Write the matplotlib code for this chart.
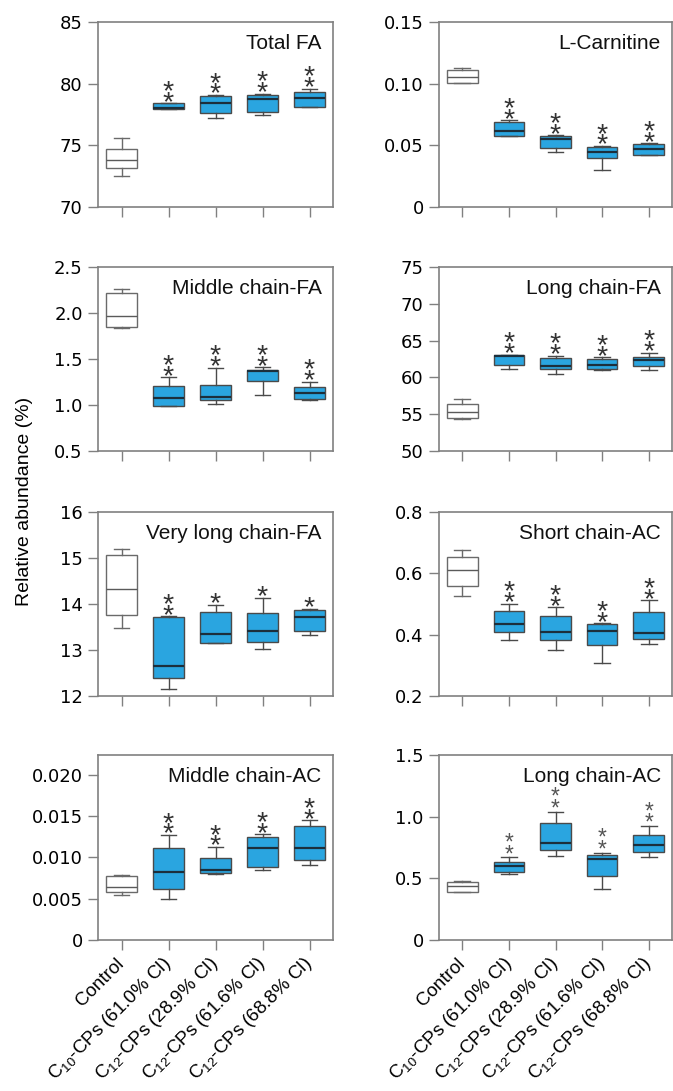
import matplotlib
matplotlib.use('Agg')
import matplotlib.pyplot as plt
from matplotlib import transforms
from matplotlib.textpath import TextPath
from matplotlib.font_manager import FontProperties
from matplotlib.ticker import FixedLocator, FixedFormatter

plt.rcParams['font.family'] = ['Liberation Sans', 'DejaVu Sans']
plt.rcParams['mathtext.fontset'] = 'custom'
plt.rcParams['mathtext.rm'] = 'Liberation Sans'
plt.rcParams['mathtext.it'] = 'Liberation Sans:italic'
plt.rcParams['mathtext.bf'] = 'Liberation Sans:bold'

# ---------------- data ----------------
groups = ['Control',
          r'C$_{10}$-CPs (61.0% Cl)',
          r'C$_{12}$-CPs (28.9% Cl)',
          r'C$_{12}$-CPs (61.6% Cl)',
          r'C$_{12}$-CPs (68.8% Cl)']

# each entry: (whisker low, Q1, median, Q3, whisker high)
total_fa = [(72.48, 73.16, 73.83, 74.68, 75.58),
            (77.98, 77.98, 78.02, 78.40, 78.42),
            (77.19, 77.64, 78.40, 79.02, 79.08),
            (77.50, 77.72, 78.74, 79.05, 79.19),
            (78.09, 78.09, 78.80, 79.36, 79.59)]
total_fa_stars = [0, 2, 2, 2, 2]

l_carnitine = [(0.1003, 0.1008, 0.1052, 0.1114, 0.1125),
               (0.0576, 0.0576, 0.0620, 0.0690, 0.0704),
               (0.0446, 0.0476, 0.0554, 0.0576, 0.0582),
               (0.0304, 0.0400, 0.0448, 0.0486, 0.0495),
               (0.0424, 0.0424, 0.0467, 0.0508, 0.0516)]
l_carnitine_stars = [0, 2, 2, 2, 2]

middle_fa = [(1.833, 1.851, 1.964, 2.221, 2.264),
             (0.993, 0.993, 1.080, 1.203, 1.301),
             (1.014, 1.058, 1.091, 1.221, 1.406),
             (1.109, 1.264, 1.366, 1.384, 1.409),
             (1.051, 1.062, 1.134, 1.199, 1.254)]
middle_fa_stars = [0, 2, 2, 2, 2]

long_fa = [(54.41, 54.50, 55.35, 56.34, 57.01),
           (61.20, 61.65, 62.86, 62.99, 63.08),
           (60.48, 61.15, 61.56, 62.59, 62.95),
           (61.06, 61.15, 61.69, 62.50, 62.72),
           (60.97, 61.51, 62.37, 62.72, 63.35)]
long_fa_stars = [0, 2, 2, 2, 2]

very_long_fa = [(13.48, 13.76, 14.32, 15.06, 15.19),
                (12.15, 12.39, 12.65, 13.71, 13.73),
                (13.15, 13.15, 13.35, 13.83, 13.98),
                (13.02, 13.18, 13.41, 13.81, 14.14),
                (13.33, 13.42, 13.71, 13.87, 13.90)]
very_long_fa_stars = [0, 2, 1, 1, 1]

short_ac = [(0.526, 0.559, 0.612, 0.654, 0.676),
            (0.382, 0.409, 0.434, 0.477, 0.501),
            (0.349, 0.383, 0.408, 0.460, 0.489),
            (0.307, 0.367, 0.412, 0.434, 0.437),
            (0.371, 0.385, 0.404, 0.473, 0.512)]
short_ac_stars = [0, 2, 2, 2, 2]

middle_ac = [(0.00545, 0.00578, 0.00638, 0.00772, 0.00792),
             (0.00493, 0.00618, 0.00820, 0.01115, 0.01273),
             (0.00804, 0.00816, 0.00853, 0.00998, 0.01127),
             (0.00853, 0.00881, 0.01119, 0.01248, 0.01281),
             (0.00909, 0.00974, 0.01111, 0.01386, 0.01450)]
middle_ac_stars = [0, 2, 2, 2, 2]

long_ac = [(0.386, 0.389, 0.441, 0.470, 0.478),
           (0.535, 0.551, 0.600, 0.635, 0.670),
           (0.681, 0.730, 0.789, 0.951, 1.041),
           (0.416, 0.519, 0.654, 0.689, 0.708),
           (0.670, 0.716, 0.768, 0.854, 0.924)]
long_ac_stars = [0, 2, 2, 2, 2]

titles = ['Total FA', 'L-Carnitine', 'Middle chain-FA', 'Long chain-FA',
          'Very long chain-FA', 'Short chain-AC', 'Middle chain-AC', 'Long chain-AC']

ylims = [(70, 85), (0, 0.15), (0.5, 2.5), (50, 75),
         (12, 16), (0.2, 0.8), (0, 0.0224), (0, 1.5)]
yticks = [[70, 75, 80, 85], [0, 0.05, 0.10, 0.15], [0.5, 1.0, 1.5, 2.0, 2.5],
          [50, 55, 60, 65, 70, 75], [12, 13, 14, 15, 16], [0.2, 0.4, 0.6, 0.8],
          [0, 0.005, 0.010, 0.015, 0.020], [0, 0.5, 1.0, 1.5]]
yticklabels = [['70', '75', '80', '85'], ['0', '0.05', '0.10', '0.15'],
               ['0.5', '1.0', '1.5', '2.0', '2.5'],
               ['50', '55', '60', '65', '70', '75'], ['12', '13', '14', '15', '16'],
               ['0.2', '0.4', '0.6', '0.8'],
               ['0', '0.005', '0.010', '0.015', '0.020'], ['0', '0.5', '1.0', '1.5']]

panels = [total_fa, l_carnitine, middle_fa, long_fa,
          very_long_fa, short_ac, middle_ac, long_ac]
stars = [total_fa_stars, l_carnitine_stars, middle_fa_stars, long_fa_stars,
         very_long_fa_stars, short_ac_stars, middle_ac_stars, long_ac_stars]
star_heights_px = [10.0, 10.0, 10.0, 10.0, 10.0, 10.0, 10.0, 8.0]
star_colors = ['#333333'] * 7 + ['#555555']

# ---------------- style ----------------
DPI = 100
W, H = 673, 1091
BLUE = '#2AA5E0'
SPINE = '#808080'

fig = plt.figure(figsize=(W / DPI, H / DPI), dpi=DPI)

col_x = [98, 439]
col_w = [235, 233]
row_top = [22, 267, 512, 755]
row_h = [185, 184, 184, 185]

star_fp = FontProperties(family='Liberation Sans')
ext = TextPath((0, 0), '*', size=1, prop=star_fp).get_extents()
star_h_em = ext.height
star_c_em = (ext.y0 + ext.y1) / 2
asc_l_em = TextPath((0, 0), 'l', size=1, prop=star_fp).get_extents().y1
desc_p_em = -TextPath((0, 0), 'p', size=1, prop=star_fp).get_extents().y0
STAR_GAP = 8.0      # px from whisker top to centre of the lowest star
STAR_STEP = 10.7    # px between stacked stars

label_shift = transforms.ScaledTranslation(10 / DPI, 0, fig.dpi_scale_trans)

for i, (data, title) in enumerate(zip(panels, titles)):
    r, c = divmod(i, 2)
    left = col_x[c] / W
    bottom = 1 - (row_top[r] + row_h[r]) / H
    ax = fig.add_axes([left, bottom, col_w[c] / W, row_h[r] / H])

    positions = list(range(1, len(groups) + 1))
    stats = []
    for g, (lo, q1, med, q3, hi) in zip(groups, data):
        stats.append(dict(whislo=lo, q1=q1, med=med, q3=q3, whishi=hi, label=g))

    bp = ax.bxp(stats, positions=positions, widths=0.66, capwidths=0.34,
                showfliers=False, patch_artist=True)
    for k, box in enumerate(bp['boxes']):
        if k == 0:
            box.set_facecolor('white')
            box.set_edgecolor('#6a6a6a')
        else:
            box.set_facecolor(BLUE)
            box.set_edgecolor('#4a4a4a')
        box.set_linewidth(1.0)
    for k, med in enumerate(bp['medians']):
        med.set_color('#5a5a5a' if k == 0 else '#1c2f3c')
        med.set_linewidth(1.0 if k == 0 else 1.6)
    for k, wl in enumerate(bp['whiskers']):
        wl.set_color('#6a6a6a' if k < 2 else '#4a4a4a')
        wl.set_linewidth(1.0)
    for k, cp in enumerate(bp['caps']):
        cp.set_color('#6a6a6a' if k < 2 else '#4a4a4a')
        cp.set_linewidth(1.0)

    ax.set_xlim(0.5, 5.5)
    ax.set_ylim(*ylims[i])
    ax.yaxis.set_major_locator(FixedLocator(yticks[i]))
    ax.yaxis.set_major_formatter(FixedFormatter(yticklabels[i]))
    ax.set_xticks(positions)
    if r == 3:
        ax.set_xticklabels(groups, rotation=45, ha='right', va='center',
                           rotation_mode='anchor', fontsize=15.5)
        for lab in ax.get_xticklabels():
            lab.set_transform(lab.get_transform() + label_shift)
    else:
        ax.set_xticklabels([])

    for sp in ax.spines.values():
        sp.set_color(SPINE)
        sp.set_linewidth(1.2)
    ax.tick_params(axis='both', direction='out', length=7, width=1.0,
                   color=SPINE, labelsize=13.5, pad=4)
    ax.tick_params(axis='x', pad=8)
    for lab in ax.get_yticklabels():
        lab.set_family('DejaVu Sans')
        lab.set_fontsize(13)

    ax.text(0.952, 0.854, title, transform=ax.transAxes, ha='right',
            va='baseline', fontsize=15, color='#111111')

    # significance stars (stacked in one text, anchored on the lowest star)
    em_px = star_heights_px[i] / star_h_em
    fs = em_px * 72 / DPI
    lsp = max(STAR_STEP - desc_p_em * em_px, 0.5) / (asc_l_em * em_px)
    for x, n, (lo, q1, med, q3, hi) in zip(positions, stars[i], data):
        if n == 0:
            continue
        off_pt = (STAR_GAP - star_c_em * em_px) * 72 / DPI
        ax.annotate('\n'.join(['*'] * n), xy=(x, hi), xytext=(0, off_pt),
                    textcoords='offset points', ha='center', va='baseline',
                    multialignment='center', linespacing=lsp,
                    fontsize=fs, color=star_colors[i], family='Liberation Sans',
                    annotation_clip=False)

fig.text(25 / W, 1 - 501 / H, 'Relative abundance (%)', rotation=90,
         ha='center', va='center', fontsize=14)

fig.savefig('out.png', dpi=DPI)
